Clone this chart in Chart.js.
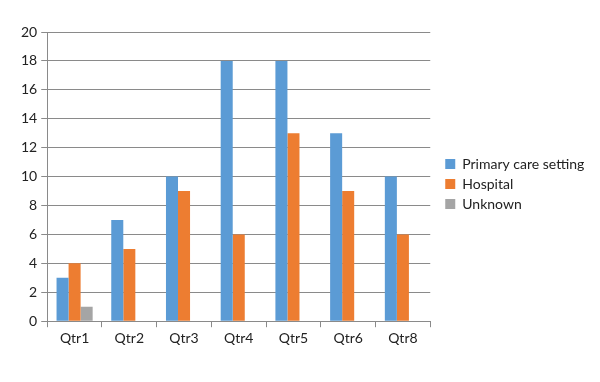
<!DOCTYPE html>
<html>
<head>
<meta charset="utf-8">
<script src="https://cdn.jsdelivr.net/npm/chart.js@4/dist/chart.umd.min.js"></script>
<style>
html,body{margin:0;padding:0;background:#fff;}
#wrap{width:600px;height:382px;}
</style>
</head>
<body>
<div id="wrap"><canvas id="c" width="600" height="382"></canvas></div>
<script>
const categories = ["Qtr1","Qtr2","Qtr3","Qtr4","Qtr5","Qtr6","Qtr8"];
const primaryCare = [3,7,10,18,18,13,10];
const hospital = [4,5,9,6,13,9,6];
const unknown = [1,0,0,0,0,0,0];
const yTicks = [0,2,4,6,8,10,12,14,16,18,20];

const font = {family: "Lato, 'Open Sans', sans-serif", size: 14};
const gridColor = "#8a8a8a";

const legendShift = {
  id: "legendShift",
  afterLayout(chart) {
    const l = chart.legend;
    l.left += 9;
    l.right = 600; l.width = l.right - l.left;
    l.top -= 7; l.bottom -= 7;
  }
};

new Chart(document.getElementById("c"), {
  type: "bar",
  data: {
    labels: categories,
    datasets: [
      {label: "Primary care setting", data: primaryCare, backgroundColor: "#5B9BD5"},
      {label: "Hospital", data: hospital, backgroundColor: "#ED7D31"},
      {label: "Unknown", data: unknown, backgroundColor: "#A5A5A5"}
    ]
  },
  plugins: [legendShift],
  options: {
    responsive: false,
    animation: false,
    devicePixelRatio: 1,
    layout: {padding: {left: 17, right: 32, top: 32, bottom: 32}},
    datasets: {bar: {barPercentage: 1, categoryPercentage: 0.66}},
    plugins: {
      tooltip: {enabled: false},
      legend: {
        position: "right",
        align: "center",
        labels: {
          font: font,
          color: "#222",
          boxWidth: 10,
          boxHeight: 10,
          padding: 6
        }
      }
    },
    scales: {
      x: {
        grid: {display: true, drawOnChartArea: false, drawTicks: true, tickLength: 6, color: gridColor, offset: true},
        border: {display: true, color: gridColor},
        ticks: {font: font, color: "#222", padding: 3}
      },
      y: {
        min: 0, max: 20,
        afterBuildTicks: (axis) => { axis.ticks = yTicks.map(v => ({value: v})); },
        grid: {color: gridColor, tickLength: 6},
        border: {display: true, color: gridColor},
        ticks: {font: font, color: "#222", padding: 4}
      }
    }
  }
});
</script>
</body>
</html>
